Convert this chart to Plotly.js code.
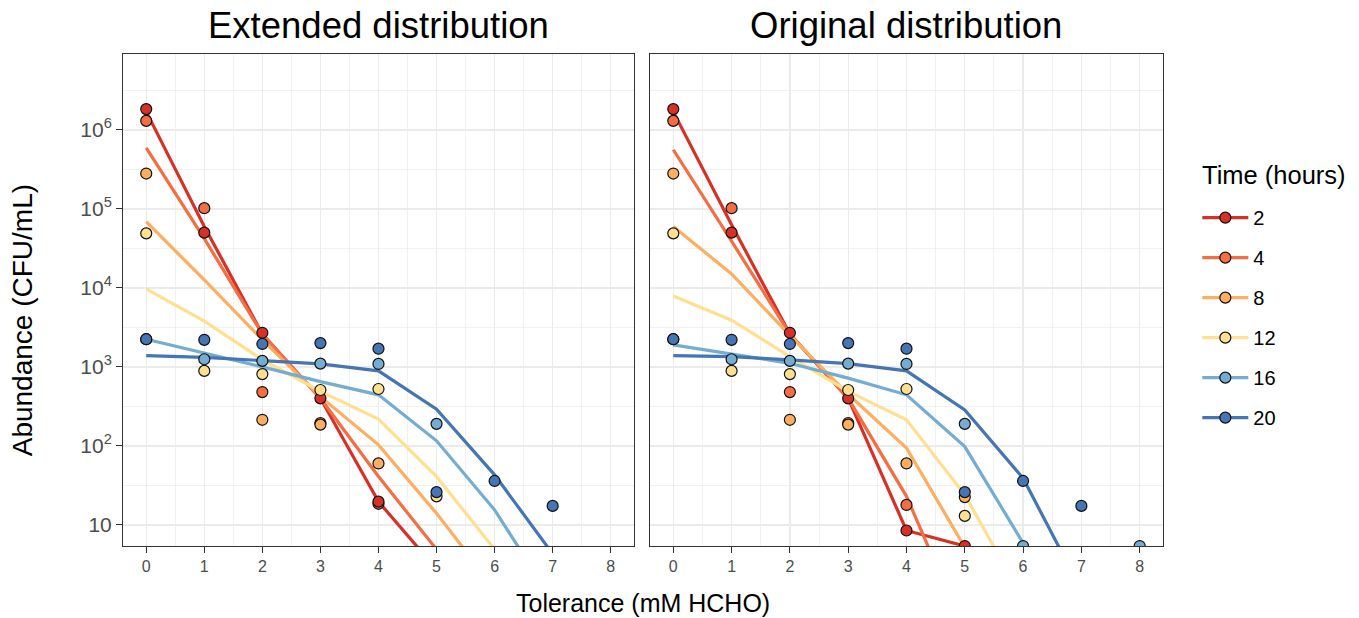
<!DOCTYPE html>
<html><head><meta charset="utf-8">
<script src="https://cdn.plot.ly/plotly-3.0.1.min.js"></script>
<style>html,body{margin:0;padding:0;background:#fff}#chart{width:1359px;height:618px}</style>
</head><body><div id="chart"></div>
<script>
// ---------- data ----------
const seriesNames = ['2', '4', '8', '12', '16', '20'];
const seriesColors = ['#D73027', '#F46D43', '#FDAE61', '#FEE090', '#74ADD1', '#4575B4'];
const panelTitles = ['Extended distribution', 'Original distribution'];
const xTickVals = [0, 1, 2, 3, 4, 5, 6, 7, 8];
const yTickVals = [10, 100, 1000, 10000, 100000, 1000000];
const yTickText = ['10', '10<sup>2</sup>', '10<sup>3</sup>', '10<sup>4</sup>', '10<sup>5</sup>', '10<sup>6</sup>'];
const fitX = [0, 1, 2, 3, 4, 5, 6, 7];

// fitted curves, Extended distribution
const extFit2  = [1.7e6, 6.0e4, 2.6e3, 400, 19.7, 2.75];
const extFit4  = [5.9e5, 4.2e4, 2.6e3, 400, 41, 4.9];
const extFit8  = [6.9e4, 1.26e4, 2.2e3, 420, 103, 14, 1.56];
const extFit12 = [9.7e3, 3.8e3, 1.23e3, 490, 218, 41, 4.9];
const extFit16 = [2.24e3, 1.5e3, 1.0e3, 650, 443, 116, 15.5, 1.1];
const extFit20 = [1.39e3, 1.32e3, 1.2e3, 1.09e3, 890, 292, 43, 4.3];

// fitted curves, Original distribution
const oriFit2  = [1.7e6, 6.3e4, 2.6e3, 400, 8.5, 5.4];
const oriFit4  = [5.6e5, 3.9e4, 2.6e3, 400, 23, 0.45];
const oriFit8  = [6.0e4, 1.5e4, 2.5e3, 450, 94, 5.2];
const oriFit12 = [7.9e3, 3.9e3, 1.35e3, 490, 214, 24, 1.16];
const oriFit16 = [1.9e3, 1.46e3, 1.11e3, 720, 443, 98, 5.9, 0.3];
const oriFit20 = [1.39e3, 1.35e3, 1.23e3, 1.1e3, 890, 286, 39, 1.5];

// observed points, Extended distribution
const extObsX2  = [0, 1, 2, 3, 4];           const extObsY2  = [1.83e6, 5.0e4, 2.7e3, 400, 19.7];
const extObsX4  = [0, 1, 2, 3, 4];           const extObsY4  = [1.3e6, 1.02e5, 480, 195, 18.5];
const extObsX8  = [0, 2, 3, 4];              const extObsY8  = [2.8e5, 214, 186, 60];
const extObsX12 = [0, 1, 2, 3, 4, 5];        const extObsY12 = [4.9e4, 890, 810, 510, 525, 23];
const extObsX16 = [0, 1, 2, 3, 4, 5];        const extObsY16 = [2.24e3, 1.25e3, 1.19e3, 1.1e3, 1.09e3, 190];
const extObsX20 = [0, 1, 2, 3, 4, 5, 6, 7];  const extObsY20 = [2.24e3, 2.2e3, 1.95e3, 2.0e3, 1.7e3, 26, 36, 17.4];

// observed points, Original distribution
const oriObsX2  = [0, 1, 2, 3, 4, 5];        const oriObsY2  = [1.83e6, 5.0e4, 2.7e3, 400, 8.5, 5.4];
const oriObsX4  = [0, 1, 2, 3, 4];           const oriObsY4  = [1.3e6, 1.02e5, 480, 195, 17.9];
const oriObsX8  = [0, 2, 3, 4, 5];           const oriObsY8  = [2.8e5, 214, 186, 60, 22.5];
const oriObsX12 = [0, 1, 2, 3, 4, 5];        const oriObsY12 = [4.9e4, 890, 810, 510, 525, 13];
const oriObsX16 = [0, 1, 2, 3, 4, 5, 6, 8];  const oriObsY16 = [2.24e3, 1.25e3, 1.19e3, 1.1e3, 1.09e3, 190, 5.4, 5.4];
const oriObsX20 = [0, 1, 2, 3, 4, 5, 6, 7];  const oriObsY20 = [2.24e3, 2.2e3, 1.95e3, 2.0e3, 1.7e3, 26, 36, 17.4];

// ---------- build ----------
const panels = [
  {xa: 'x',  ya: 'y',  fits: [extFit2, extFit4, extFit8, extFit12, extFit16, extFit20],
   obsX: [extObsX2, extObsX4, extObsX8, extObsX12, extObsX16, extObsX20],
   obsY: [extObsY2, extObsY4, extObsY8, extObsY12, extObsY16, extObsY20]},
  {xa: 'x2', ya: 'y2', fits: [oriFit2, oriFit4, oriFit8, oriFit12, oriFit16, oriFit20],
   obsX: [oriObsX2, oriObsX4, oriObsX8, oriObsX12, oriObsX16, oriObsX20],
   obsY: [oriObsY2, oriObsY4, oriObsY8, oriObsY12, oriObsY16, oriObsY20]}
];
const pointOrder = [1, 0, 2, 3, 4, 5];
const traces = [];
// legend entries first
seriesNames.forEach((nm, i) => {
  traces.push({type: 'scatter', mode: 'lines+markers', x: [null], y: [null], name: nm,
    legendgroup: nm, showlegend: true,
    line: {color: seriesColors[i], width: 3.2},
    marker: {color: seriesColors[i], size: 11, line: {color: '#111', width: 1.2}}});
});
panels.forEach(p => {
  seriesNames.forEach((nm, i) => {
    traces.push({type: 'scatter', mode: 'lines', xaxis: p.xa, yaxis: p.ya,
      x: fitX.slice(0, p.fits[i].length), y: p.fits[i],
      line: {color: seriesColors[i], width: 3.2}, legendgroup: nm, showlegend: false, hoverinfo: 'skip'});
  });
});
panels.forEach(p => {
  pointOrder.forEach(i => {
    traces.push({type: 'scatter', mode: 'markers', xaxis: p.xa, yaxis: p.ya,
      x: p.obsX[i], y: p.obsY[i],
      marker: {color: seriesColors[i], size: 11, line: {color: '#111', width: 1.2}},
      legendgroup: seriesNames[i], showlegend: false});
  });
});

const font = 'Liberation Sans, Arial, Helvetica, sans-serif';
const gridC = '#EBEBEB';
const yMinor = [0.5, 1.5, 2.5, 3.5, 4.5, 5.5, 6.5].map(v => Math.pow(10, v));
const xMinor = [0.5, 1.5, 2.5, 3.5, 4.5, 5.5, 6.5, 7.5];
function xAxis(dom, anchor) {
  return {domain: dom, anchor: anchor, range: [-0.4, 8.4], tickmode: 'array', tickvals: xTickVals,
    showline: true, mirror: true, linecolor: '#333', linewidth: 1,
    ticks: 'outside', ticklen: 6, tickcolor: '#333', tickwidth: 1,
    tickfont: {size: 16, color: '#4D4D4D'}, showgrid: true, gridcolor: gridC, gridwidth: 1.3,
    zeroline: false, minor: {tickmode: 'array', tickvals: xMinor, showgrid: true, gridcolor: gridC, gridwidth: 0.7, ticks: ''}};
}
function yAxis(anchor, labels) {
  return {type: 'log', anchor: anchor, range: [0.733, 6.96], tickmode: 'array', tickvals: yTickVals, ticktext: yTickText,
    showline: true, mirror: true, linecolor: '#333', linewidth: 1,
    ticks: labels ? 'outside' : '', ticklen: 6, tickcolor: '#333', tickwidth: 1,
    showticklabels: labels, tickfont: {size: 21, color: '#4D4D4D'},
    showgrid: true, gridcolor: gridC, gridwidth: 1.3, zeroline: false,
    minor: {tickmode: 'array', tickvals: yMinor, showgrid: true, gridcolor: gridC, gridwidth: 0.7, ticks: ''}};
}
const d1 = [0, 0.4913], d2 = [0.5067, 1];
const layout = {
  width: 1359, height: 618,
  margin: {l: 123, r: 196, t: 54, b: 72},
  paper_bgcolor: '#fff', plot_bgcolor: '#fff',
  font: {family: font, color: '#000'},
  xaxis: xAxis(d1, 'y'), xaxis2: xAxis(d2, 'y2'),
  yaxis: yAxis('x', true), yaxis2: Object.assign(yAxis('x2', false), {matches: 'y'}),
  showlegend: true,
  legend: {x: 1.033, xanchor: 'left', y: 0.707, yanchor: 'top', tracegroupgap: 11, traceorder: 'grouped',
    itemwidth: 46, font: {size: 20, color: '#000'}, bgcolor: 'rgba(0,0,0,0)'},
  annotations: [
    {text: panelTitles[0], xref: 'paper', yref: 'paper', x: (d1[0] + d1[1]) / 2, y: 1.057, xanchor: 'center', yanchor: 'middle', showarrow: false, font: {size: 36.5, color: '#000'}},
    {text: panelTitles[1], xref: 'paper', yref: 'paper', x: (d2[0] + d2[1]) / 2, y: 1.057, xanchor: 'center', yanchor: 'middle', showarrow: false, font: {size: 36.5, color: '#000'}},
    {text: 'Tolerance (mM HCHO)', xref: 'paper', yref: 'paper', x: 0.5, y: -0.116, xanchor: 'center', yanchor: 'middle', showarrow: false, font: {size: 25, color: '#000'}},
    {text: 'Abundance (CFU/mL)', xref: 'paper', yref: 'paper', x: -0.097, y: 0.459, xanchor: 'center', yanchor: 'middle', textangle: -90, showarrow: false, font: {size: 28, color: '#000'}},
    {text: 'Time (hours)', xref: 'paper', yref: 'paper', x: 1.0355, y: 0.754, xanchor: 'left', yanchor: 'middle', showarrow: false, font: {size: 25.5, color: '#000'}}
  ]
};
Plotly.newPlot('chart', traces, layout, {displayModeBar: false, staticPlot: true});
</script></body></html>
